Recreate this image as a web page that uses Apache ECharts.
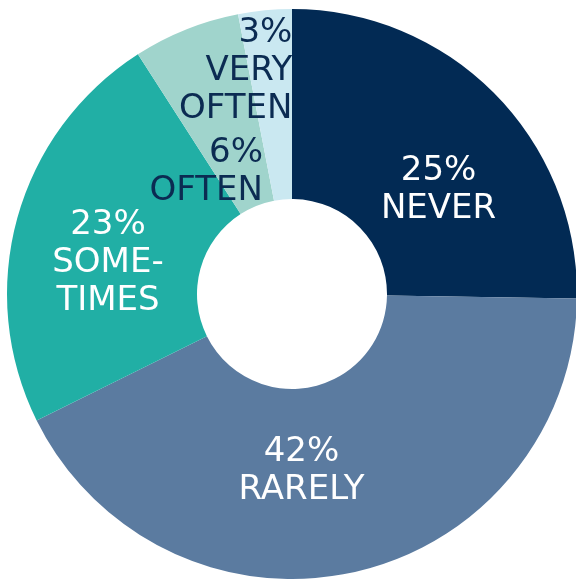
<!DOCTYPE html>
<html>
<head>
<meta charset="utf-8">
<script src="https://cdn.jsdelivr.net/npm/echarts@6/dist/echarts.min.js"></script>
<style>
  html, body { margin: 0; padding: 0; background: #ffffff; }
  #chart { width: 576px; height: 579px; }
</style>
</head>
<body>
<div id="chart"></div>
<script>
// Survey answers, clockwise from 12 o'clock
var categories = ['NEVER', 'RARELY', 'SOMETIMES', 'OFTEN', 'VERY OFTEN'];
var labelNames = ['NEVER', 'RARELY', 'SOME-\nTIMES', 'OFTEN', 'VERY\nOFTEN'];
var values = [25, 42, 23, 6, 3];

var colors = ['#022a54', '#5b7ba0', '#21afa5', '#a0d4cc', '#cae8f1'];
var textColors = ['#ffffff', '#ffffff', '#ffffff', '#0b2b52', '#0b2b52'];
// Nudges from the slice's default inside anchor
var labelOffsets = [[9, 32], [-33, -11], [2, 21], [-14, 57], [-38, -31]];
var lineAlign = ['center', 'center', 'center', 'right', 'right'];

var data = categories.map(function (name, i) {
  var st = { fontFamily: 'DejaVu Sans', fontSize: 34, lineHeight: 38, color: textColors[i], align: lineAlign[i] };
  return {
    name: name,
    value: values[i],
    itemStyle: { color: colors[i] },
    label: {
      offset: labelOffsets[i],
      formatter: function () {
        var lines = [values[i] + '%'].concat(labelNames[i].split('\n'));
        return lines.map(function (l) { return '{t|' + l + '}'; }).join('\n');
      },
      rich: { t: st }
    }
  };
});

var chart = echarts.init(document.getElementById('chart'), null, { renderer: 'canvas' });
chart.setOption({
  animation: false,
  series: [{
    type: 'pie',
    center: [292, 294],
    radius: [95, 285],
    startAngle: 90,
    clockwise: true,
    avoidLabelOverlap: false,
    itemStyle: { borderWidth: 0 },
    emphasis: { disabled: true },
    label: { show: true, position: 'inside' },
    labelLine: { show: false },
    data: data
  }]
});
</script>
</body>
</html>
